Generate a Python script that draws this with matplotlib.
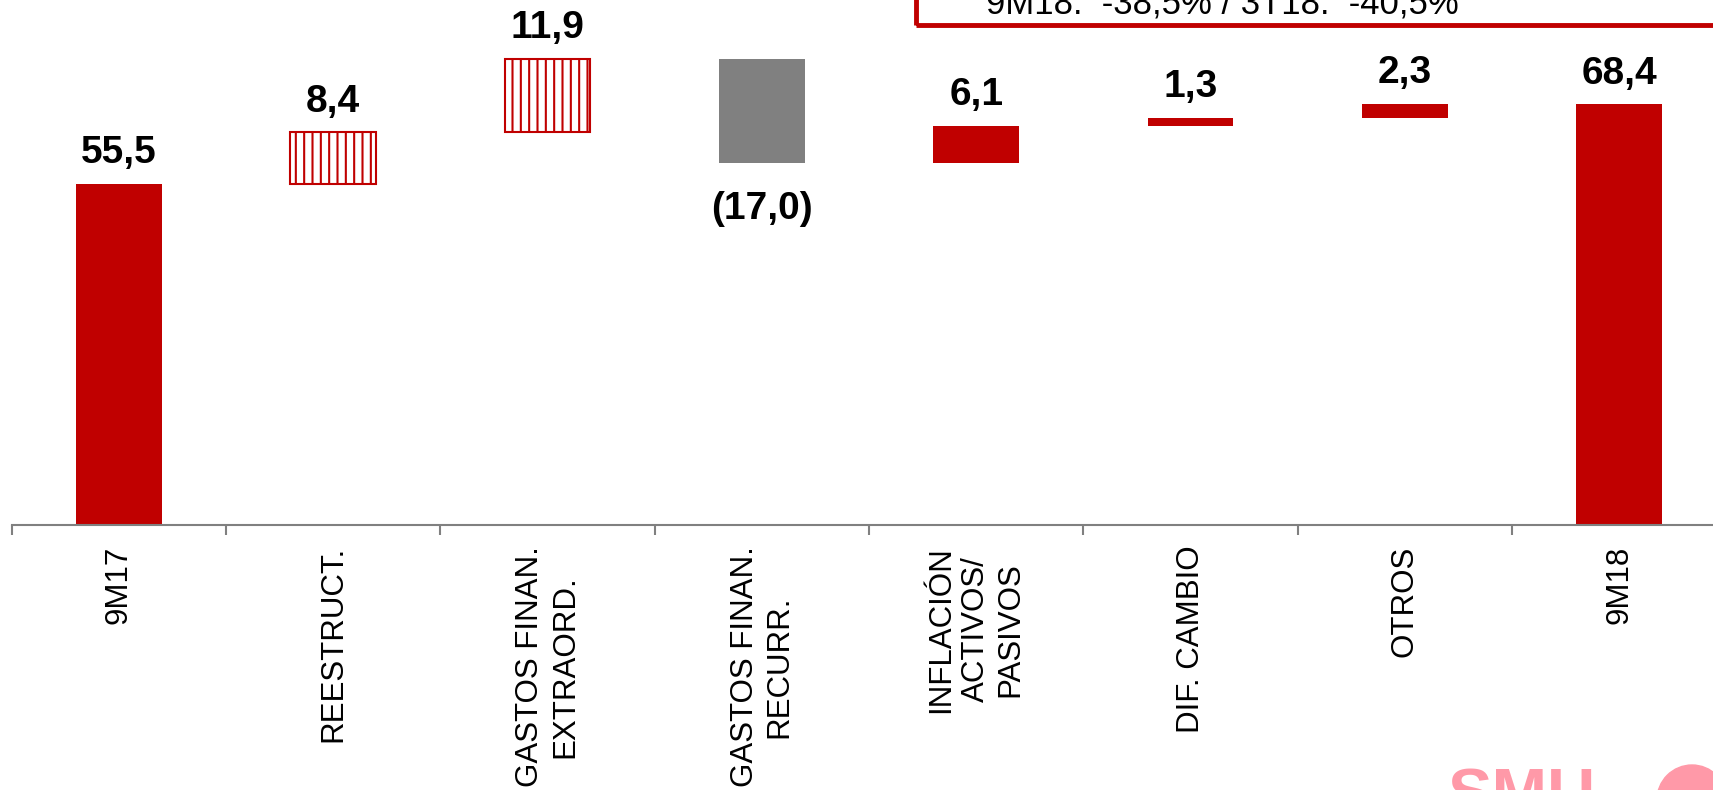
import numpy as np
import matplotlib
matplotlib.use("Agg")
import matplotlib.pyplot as plt
from matplotlib.patches import Rectangle, Ellipse

# ---------------- datos ----------------
CATEGORIES = [
    "9M17",
    "REESTRUCT.",
    "GASTOS FINAN.\nEXTRAORD.",
    "GASTOS FINAN.\nRECURR.",
    "INFLACIÓN\nACTIVOS/\nPASIVOS",
    "DIF. CAMBIO",
    "OTROS",
    "9M18",
]
VALUES = [55.5, 8.4, 11.9, -17.0, 6.1, 1.3, 2.3, 68.4]
LABELS = ["55,5", "8,4", "11,9", "(17,0)", "6,1", "1,3", "2,3", "68,4"]
BOX_TEXT = "9M18:  -38,5% / 3T18:  -40,5%"

# ---------------- estilo ----------------
RED = "#C00000"
GREY = "#808080"
PINK = "#FF99A8"
HATCHED = {1, 2}

plt.rcParams["font.family"] = ["Liberation Sans", "DejaVu Sans"]
plt.rcParams["hatch.linewidth"] = 1.5
plt.rcParams["hatch.color"] = RED

W, H = 1713, 790
fig = plt.figure(figsize=(W / 100, H / 100), dpi=100)
step = 214.3
left_px = 119 - 0.5 * step
ax = fig.add_axes([left_px / W, 265 / H, 8 * step / W, 525 / H])

# bases de la cascada
n = len(VALUES)
bottoms = []
running = 0.0
for i, v in enumerate(VALUES):
    if i == 0 or i == n - 1:
        bottoms.append(0.0)
        running = v
    else:
        bottoms.append(running if v > 0 else running + v)
        running += v
heights = [abs(v) for v in VALUES]

x = np.arange(n)
for i in range(n):
    if i in HATCHED:
        ax.bar(x[i], heights[i], 0.40, bottom=bottoms[i], facecolor="white",
               edgecolor=RED, linewidth=1.5, hatch="||")
    elif VALUES[i] < 0:
        ax.bar(x[i], heights[i], 0.40, bottom=bottoms[i], color=GREY)
    else:
        ax.bar(x[i], heights[i], 0.40, bottom=bottoms[i], color=RED)

    if VALUES[i] < 0:
        ax.annotate(LABELS[i], (x[i], bottoms[i]), xytext=(0, -20),
                    textcoords="offset points", ha="center", va="top",
                    fontsize=28, fontweight="bold")
    else:
        ax.annotate(LABELS[i], (x[i], bottoms[i] + heights[i]), xytext=(0, 9),
                    textcoords="offset points", ha="center", va="bottom",
                    fontsize=28, fontweight="bold")

ax.set_xlim(-0.5, n - 0.5)
ax.set_ylim(0, 525 / 6.15)
ax.set_xticks(x)
ax.set_xticklabels(CATEGORIES, rotation=90, fontsize=22.5,
                   multialignment="center")
ax.set_xticks(np.arange(-0.5, n, 1.0), minor=True)
ax.tick_params(axis="x", which="major", length=0, pad=15)
ax.tick_params(axis="x", which="minor", length=7, width=1.5,
               color=GREY, direction="out")
ax.set_yticks([])
for s in ("left", "right", "top"):
    ax.spines[s].set_visible(False)
ax.spines["bottom"].set_color(GREY)
ax.spines["bottom"].set_linewidth(1.5)
ax.patch.set_visible(False)

# recuadro superior (recortado por el borde)
fig.patches.append(Rectangle((916 / W, 1 - 25 / H), 1.0, 0.2,
                             transform=fig.transFigure, fill=False,
                             edgecolor=RED, linewidth=3.5, clip_on=False))
fig.text(986 / W, 1 - 13 / H, BOX_TEXT, fontsize=25, ha="left",
         va="baseline")

# logo (recortado por el borde)
fig.text(1447 / W, 1 - 767 / H, "SMU", color=PINK, fontsize=48,
         fontweight="bold", ha="left", va="top")
fig.patches.append(Ellipse((1692 / W, 1 - 800 / H), 70 / W, 70 / H,
                           transform=fig.transFigure, color=PINK))

fig.savefig("out.png", dpi=100)
